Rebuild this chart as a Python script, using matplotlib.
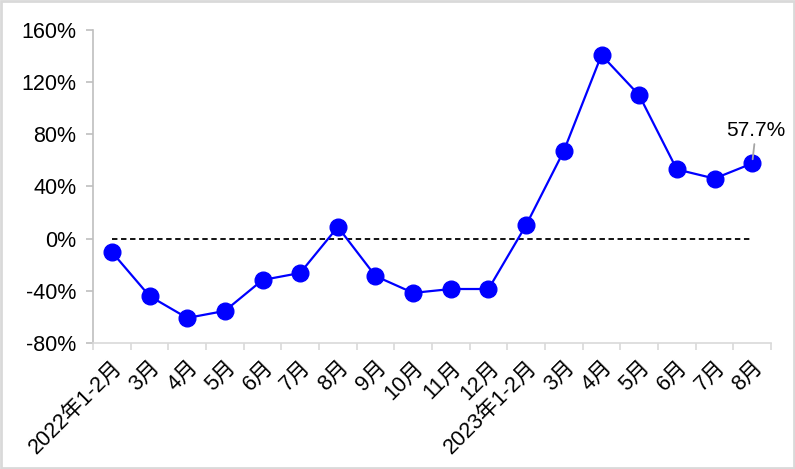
import matplotlib
matplotlib.use('Agg')
from matplotlib import pyplot as plt
from matplotlib.patches import Rectangle
import numpy as np

plt.rcParams['font.family'] = ['Liberation Sans', 'Noto Sans CJK SC']

# 月份标签
months = ['2022年1-2月', '3月', '4月', '5月', '6月', '7月', '8月', '9月', '10月',
          '11月', '12月', '2023年1-2月', '3月', '4月', '5月', '6月', '7月', '8月']
# 同比增速(%)
growth = [-10.2, -44.0, -60.8, -55.4, -31.7, -26.3, 9.0, -28.7, -41.6,
          -38.6, -38.6, 10.5, 67.3, 140.8, 110.0, 53.1, 46.1, 57.7]
y_ticks = [-80, -40, 0, 40, 80, 120, 160]

fig = plt.figure(figsize=(7.95, 4.69), dpi=100)
ax = fig.add_axes([93/795, 1-343/469, (771-93)/795, (343-30)/469])

x = np.arange(len(months))
ax.plot([x[0], x[-1]], [0, 0], 'k--', linewidth=1.3, dashes=(3, 2))
ax.plot(x, growth, color='#0000ff', linewidth=1.6, marker='o', markersize=12,
        markerfacecolor='#0000ff', markeredgecolor='#0000ff', zorder=3)

ax.set_xlim(-0.5, len(months) - 0.5)
ax.set_ylim(-80, 160)
ax.set_yticks(y_ticks)
ax.set_yticklabels(['%d%%' % v for v in y_ticks], fontsize=15.5)

# 刻度线放在类别边界
ax.set_xticks(x)
ax.set_xticklabels(months, rotation=45, ha='right', rotation_mode='anchor', fontsize=15.5)
ax.set_xticks(np.arange(len(months) + 1) - 0.5, minor=True)
ax.tick_params(axis='x', which='major', length=0, pad=10)
ax.tick_params(axis='x', which='minor', length=5, color='#d9d9d9', width=1.2)
ax.tick_params(axis='y', length=5, color='#bfbfbf', width=1.2, pad=7)

ax.spines['right'].set_visible(False)
ax.spines['top'].set_visible(False)
ax.spines['left'].set_color('#bfbfbf')
ax.spines['bottom'].set_color('#d9d9d9')
ax.spines['left'].set_linewidth(1.2)
ax.spines['bottom'].set_linewidth(1.2)

# 最后一个点加注解
ax.annotate('%.1f%%' % growth[-1], xy=(x[-1], growth[-1]), xytext=(x[-1] + 0.1, growth[-1] + 18),
            ha='center', va='bottom', fontsize=15,
            arrowprops=dict(arrowstyle='-', color='#a6a6a6', linewidth=1.3, shrinkA=1, shrinkB=3))

# 图片边框
fig.patches.append(Rectangle((0.0015, 0.002), 0.997, 0.995, transform=fig.transFigure,
                             fill=False, edgecolor='#d9d9d9', linewidth=2))

fig.savefig('out.png', dpi=100)
